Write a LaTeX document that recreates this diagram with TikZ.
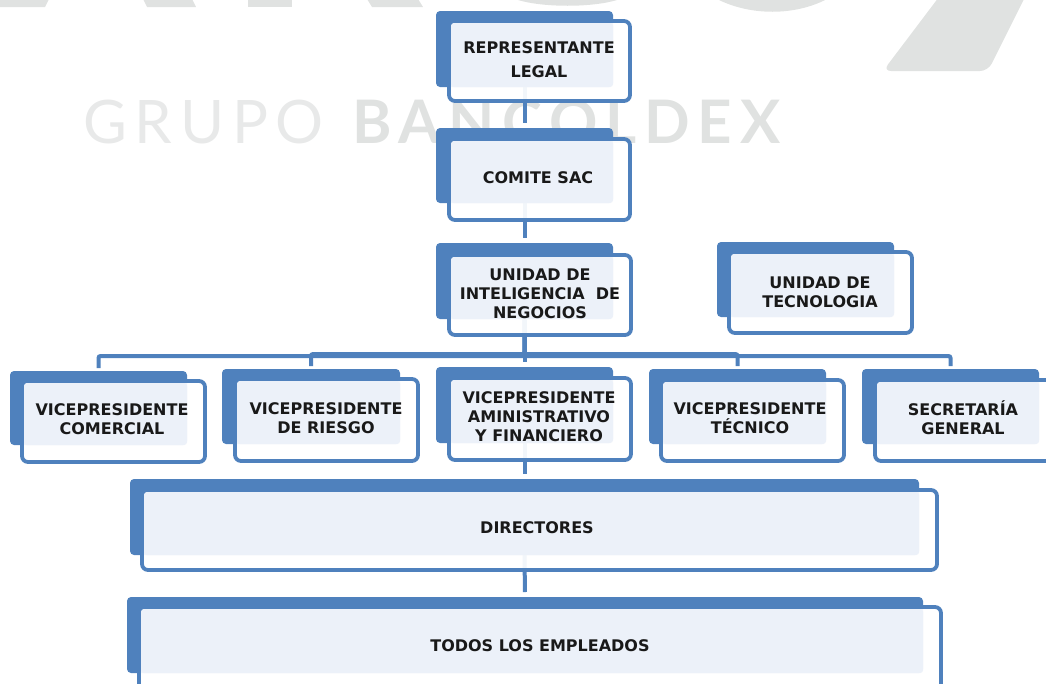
\documentclass[tikz,border=0pt]{standalone}
\usepackage{fontspec}
\setmainfont{DejaVu Sans}
\newfontfamily\wmfont[LetterSpace=13]{Lato}
\usetikzlibrary{fit}
\definecolor{orgblue}{HTML}{4F81BD}
\definecolor{orgpale}{HTML}{ECF1F9}
\definecolor{wmgray}{HTML}{E0E2E1}
\def\orgboxes{%
  rep/436/11/613/87/449/21/630/101/539/60/{REPRESENTANTE\\[5pt]LEGAL},
  com/436/128/613/203/449/139/630/220/538/178/{COMITE SAC},
  uni/436/243/613/319/449/255/631/335/540/294/{UNIDAD DE\\INTELIGENCIA~ DE\\NEGOCIOS},
  tec/717/242/894/317/729/252/912/333/820/292/{UNIDAD DE\\TECNOLOGIA},
  vp1/10/371/187/445/22/381/205/462/112/419/{VICEPRESIDENTE\\COMERCIAL},
  vp2/222/369/400/444/235/379/418/461/326/418/{VICEPRESIDENTE\\DE RIESGO},
  vp3/436/367/613/443/449/378/631/460/539/417/{VICEPRESIDENTE\\AMINISTRATIVO\\Y FINANCIERO},
  vp4/649/369/826/444/661/380/844/461/750/418/{VICEPRESIDENTE\\TÉCNICO},
  vp5/862/369/1039/444/875/380/1060/461/963/418/{SECRETARÍA\\GENERAL},
  dir/130/479/919/555/142/490/937/570/537/528/{DIRECTORES},
  tod/127/597/923/673/139/607/941/700/540/646/{TODOS LOS EMPLEADOS}}
\begin{document}
\begin{tikzpicture}[x=1pt,y=-1pt,
  backbox/.style={fill=orgblue,rounded corners=4pt,inner sep=0pt,outer sep=0pt},
  frontbox/.style={draw=orgblue,line width=3.8pt,fill=white,fill opacity=.93,rounded corners=6pt,inner sep=0pt,outer sep=0pt},
  palebox/.style={fill=orgpale,rounded corners=3pt,inner sep=0pt,outer sep=0pt},
  conn/.style={draw=orgblue,line width=4pt,shorten >=5pt,rounded corners=2pt},
  lbl/.style={align=center,font=\fontsize{16}{19}\selectfont\bfseries,text=black!90,inner sep=0pt},
  wm/.style={text=wmgray,font=\fontsize{60}{60}\selectfont\wmfont,inner sep=0pt,anchor=base west}]
  \useasboundingbox (0,0) rectangle (1046,683);
  \clip (0,0) rectangle (1046,683);
  \fill[wmgray] (0,-1) -- (49,-1) -- (45,7) -- (0,7) -- cycle;
  \fill[wmgray] (143,-1) -- (192,-1) -- (196,7) -- (147,7) -- cycle;
  \fill[wmgray] (248,-1) rectangle (292,7);
  \fill[wmgray] (367,-1) -- (418,-1) -- (423,7) -- (372,7) -- cycle;
  \fill[wmgray] (515,-1) .. controls (540,8) and (595,8) .. (620,-1) -- cycle;
  \fill[wmgray] (717,-1) .. controls (750,16) and (795,16) .. (827,-1) -- cycle;
  \fill[wmgray,rounded corners=8pt] (948,-15) -- (1031,-15) -- (988,71) -- (883,71) -- cycle;
  \node[wm,text=wmgray!75] (wmg) at (83,143) {GRUPO};
  \node[wm,font=\fontsize{60}{60}\selectfont\wmfont\bfseries] (wmb) at (352,143) {BANCOLDEX};
  \foreach \nm/\bx/\by/\bX/\bY/\fx/\fy/\fX/\fY/\tx/\ty/\txt in \orgboxes
    \node[backbox,fit={(\bx,\by)(\bX,\bY)}] (\nm) {};
  \draw[conn] (rep.south) -- (com.north);
  \draw[conn] (com.south) -- (uni.north);
  \draw[conn] (uni.south) -- (vp3.north);
  \foreach \vp/\bus in {vp1/356,vp2/354,vp4/354,vp5/356}
    \draw[conn,shorten >=3pt] (uni.south) -- (uni.south |- 0,\bus) -| (\vp.north);
  \draw[conn] (vp3.south) -- (dir.north);
  \draw[conn] (dir.south) -- (tod.north);
  \foreach \nm/\bx/\by/\bX/\bY/\fx/\fy/\fX/\fY/\tx/\ty/\txt in \orgboxes {
    \node[frontbox,fit={(\fx,\fy)(\fX,\fY)}] (\nm f) {};
    \node[palebox,fit={(\fx+2,\fy+2)(\bX,\bY)}] (\nm p) {};
    \node[lbl] (\nm t) at (\tx,\ty) {\txt};
  }
\end{tikzpicture}
\end{document}
